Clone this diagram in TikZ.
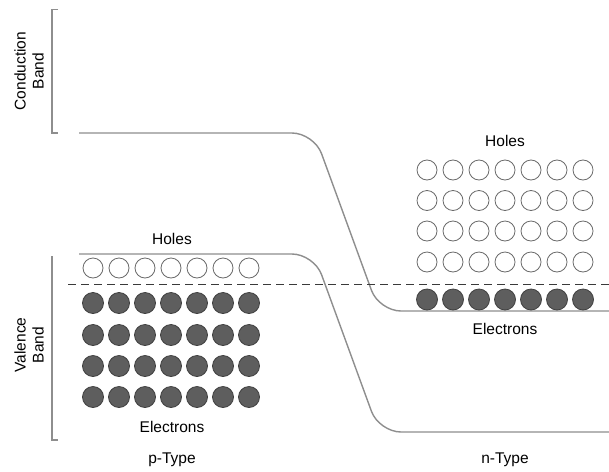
\documentclass[tikz,border=0pt]{standalone}
\usepackage{fontspec}
\setmainfont{Liberation Sans}
\definecolor{bandgray}{HTML}{8E8E8E}
\definecolor{holeedge}{HTML}{6A6A6A}
\definecolor{elecfill}{HTML}{5E5E5E}
\definecolor{elecedge}{HTML}{404040}
\definecolor{dashcol}{HTML}{3A3A3A}
\begin{document}
\begin{tikzpicture}[x=1pt,y=-1pt,
  band/.style={draw=bandgray, line width=1.4pt, rounded corners=22pt},
  bracketline/.style={draw=bandgray, line width=1.1pt},
  hole/.style={circle, draw=holeedge, fill=white, minimum size=20pt, inner sep=0pt, line width=0.8pt},
  elec/.style={circle, draw=elecedge, fill=elecfill, minimum size=21pt, inner sep=0pt, line width=0.8pt},
  lbl/.style={font=\fontsize{15.5}{18}\selectfont, inner sep=0pt},
  fermi/.style={draw=dashcol, line width=1pt, dash pattern=on 8pt off 5pt}]
\useasboundingbox (0,0) rectangle (609,471);
% brackets
\coordinate (cbt) at (58,9.5); \coordinate (cbtl) at (52,9.5);
\coordinate (cbbl) at (52,133); \coordinate (cbb) at (58,133);
\draw[bracketline] (cbt) -- (cbtl) -- (cbbl) -- (cbb);
\coordinate (vbt) at (52,256); \coordinate (vbbl) at (52,440); \coordinate (vbb) at (58,440);
\draw[bracketline] (vbt) -- (vbbl) -- (vbb);
\node[lbl, rotate=90, align=center] (cblabel) at (29,71) {Conduction\\Band};
\node[lbl, rotate=90, align=center] (vblabel) at (29,345) {Valence\\Band};
% bands
\coordinate (c0) at (79,133); \coordinate (c1) at (314,133); \coordinate (c2) at (379,311); \coordinate (c3) at (609,311);
\draw[band] (c0) -- (c1) -- (c2) -- (c3);
\coordinate (v0) at (79,254); \coordinate (v1) at (314,254); \coordinate (v2) at (379,432); \coordinate (v3) at (609,432);
\draw[band] (v0) -- (v1) -- (v2) -- (v3);
% Fermi level
\coordinate (f0) at (68,284.5); \coordinate (f1) at (609,284.5);
\draw[fermi] (f0) -- (f1);
% p-type carriers
\foreach \i in {1,...,7} {
  \node[hole] (ph\i) at ({93+26*(\i-1)},268) {};
  \foreach \r/\yy in {1/303,2/335,3/366,4/397}
    \node[elec] (pe\r-\i) at ({93+26*(\i-1)},\yy) {};
}
% n-type carriers
\foreach \i in {1,...,7} {
  \foreach \r/\yy in {1/170,2/200.5,3/231,4/262}
    \node[hole] (nh\r-\i) at ({427+26*(\i-1)},\yy) {};
  \node[elec] (ne\i) at ({427+26*(\i-1)},299.5) {};
}
% labels
\node[lbl] (pholes) at (172,239) {Holes};
\node[lbl] (pelec) at (172,427) {Electrons};
\node[lbl] (ptype) at (172,460) {p-Type};
\node[lbl] (nholes) at (505,141) {Holes};
\node[lbl] (nelec) at (505,328.5) {Electrons};
\node[lbl] (ntype) at (505,460) {n-Type};
\end{tikzpicture}
\end{document}
